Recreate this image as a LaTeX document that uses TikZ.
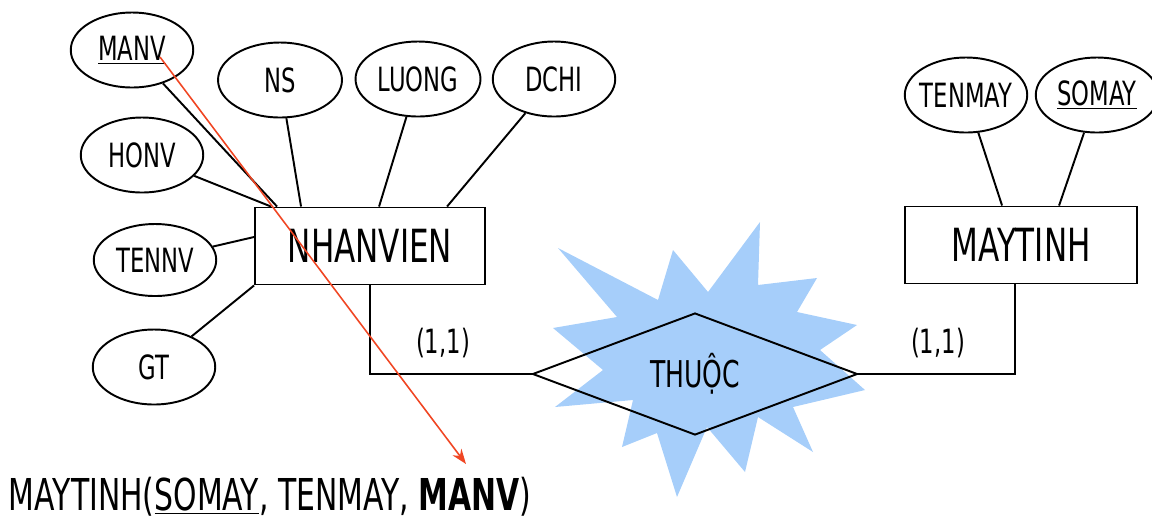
\documentclass[tikz,border=0pt]{standalone}
\usepackage{fontspec}
\setmainfont{DejaVu Sans}[FakeStretch=0.68]
\usetikzlibrary{shapes.geometric,calc,arrows.meta}
\definecolor{burstblue}{RGB}{166,206,250}
\definecolor{linkred}{RGB}{240,70,35}
\tikzset{
every picture/.style={
line width=1.1pt
},
attr/.style={ellipse, draw, minimum width=2.45cm, minimum height=1.5cm, inner sep=-3pt, font=\fontsize{19}{21}\selectfont},
entity/.style={rectangle, draw, minimum width=4.6cm, minimum height=1.54cm, inner sep=0pt, font=\fontsize{26}{28}\selectfont},
rel/.style={diamond, draw, minimum width=6.5cm, minimum height=2.44cm, inner sep=-8pt, font=\fontsize{21}{23}\selectfont},
card/.style={font=\fontsize{19}{21}\selectfont}
}

\begin{document}
\begin{tikzpicture}[x=0.02cm, y=-0.02cm]
\useasboundingbox (0,0) rectangle (1152,522);

% burst behind the relationship
\fill[burstblue] (760,222) -- (758,285) -- (817,278) -- (797,312) -- (857,325) -- (820,350)
  -- (865,390) -- (793,407) -- (813,452) -- (758,417) -- (745,472) -- (707,427)
  -- (677,497) -- (657,433) -- (622,447) -- (633,400) -- (555,407) -- (603,370)
  -- (553,328) -- (617,317) -- (558,248) -- (658,300) -- (673,250) -- (708,292) -- cycle;

% entities
\node[entity] (nhanvien) at (370,246) {NHANVIEN};
\node[entity, minimum width=4.64cm] (maytinh) at (1021,245) {MAYTINH};

% attributes
\node[attr] (manv) at (132,50) {\underline{MANV}};
\node[attr, minimum width=2.48cm] (ns) at (280,80) {NS};
\node[attr, minimum width=2.5cm] (luong) at (418,79) {LUONG};
\node[attr] (dchi) at (554,79) {DCHI};
\node[attr] (honv) at (142,155) {HONV};
\node[attr, minimum height=1.44cm] (tennv) at (155,260) {TENNV};
\node[attr] (gt) at (154,367) {GT};
\node[attr] (tenmay) at (966,95) {TENMAY};
\node[attr] (somay) at (1097,95) {\underline{SOMAY}};

% relationship
\node[rel] (thuoc) at (695,374) {THUỘC};

\foreach \a/\dx in {manv/23, honv/17, ns/47, luong/125, dchi/193}{
  \draw (\a) -- ($(nhanvien.north west)+(\dx,0)$);
}
\draw (tennv) -- ($(nhanvien.west)+(0,-9)$);
\draw (gt) -- (nhanvien.south west);
\draw (tenmay) -- ($(maytinh.north west)+(98,0)$);
\draw (somay) -- ($(maytinh.north west)+(155,0)$);

\draw (nhanvien.south) |- (thuoc.west);
\draw ($(maytinh.south)+(-6,0)$) |- (thuoc.east);
\node[card] (c1) at (443,343) {(1,1)};
\node[card] (c2) at (938,343) {(1,1)};

% foreign key
\coordinate (manvend) at (160,57);
\coordinate (fktip) at (466,464);
\draw[linkred, line width=0.9pt, -{Stealth[length=0.3cm, width=0.22cm]}] (manvend) -- (fktip);

\node[anchor=base west, font=\fontsize{25}{28}\selectfont, inner sep=0pt] (schema) at (8,510)
  {MAYTINH(\underline{SOMAY}, TENMAY, \textbf{MANV})};
\end{tikzpicture}
\end{document}
